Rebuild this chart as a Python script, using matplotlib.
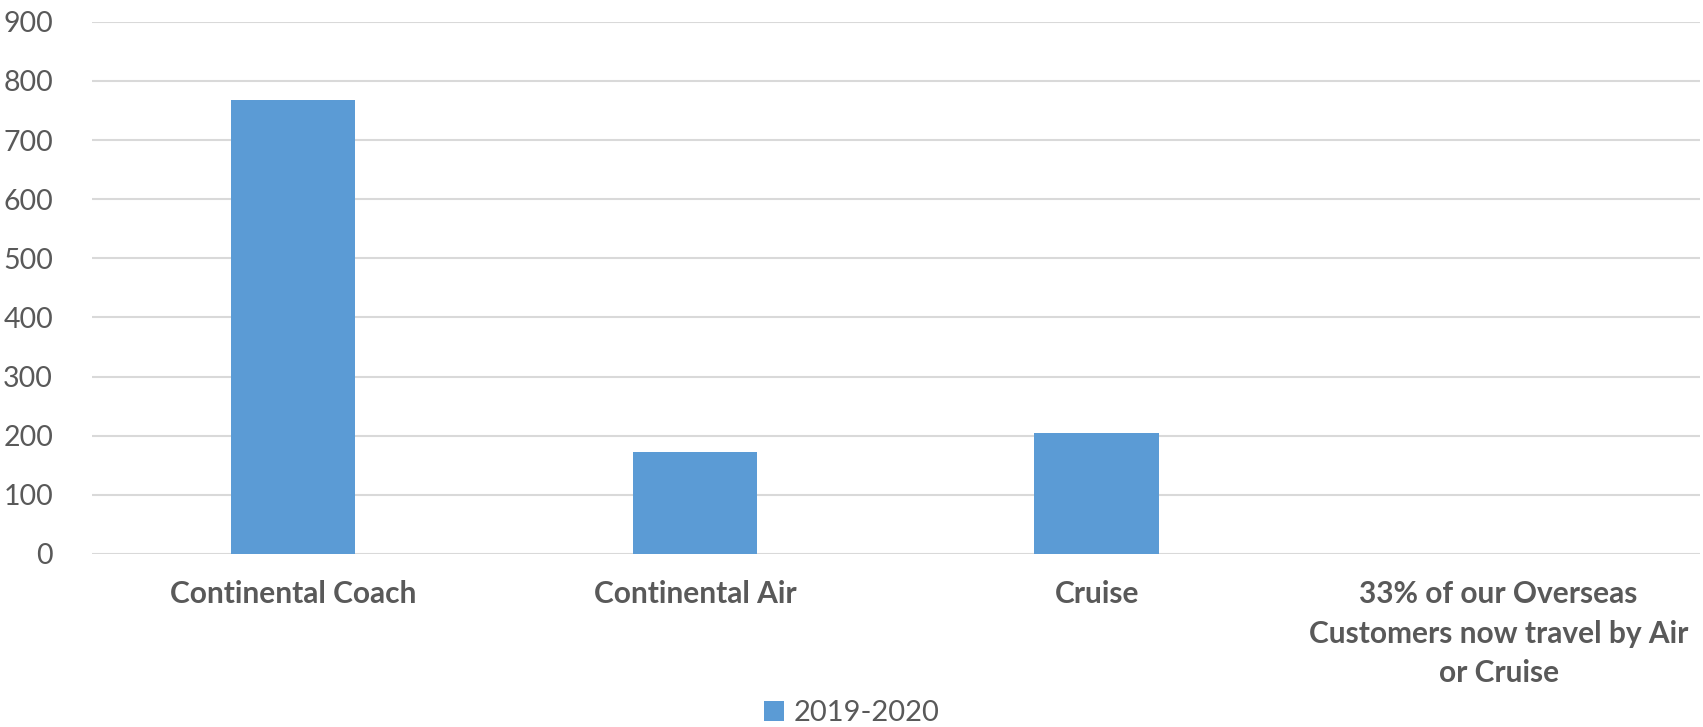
import matplotlib.pyplot as plt
import numpy as np

plt.rcParams['font.family'] = ['Lato', 'DejaVu Sans']

categories = ["Continental Coach", "Continental Air", "Cruise",
              "33% of our Overseas\nCustomers now travel by Air\nor Cruise"]
values = [768, 172, 204, 0]
series_name = "2019-2020"
yticks = [0, 100, 200, 300, 400, 500, 600, 700, 800, 900]

text_color = "#595959"
bar_color = "#5B9BD5"
grid_color = "#D9D9D9"

fig = plt.figure(figsize=(17.03, 7.27), dpi=100)
ax = fig.add_axes([0.054, 0.238, 0.944, 0.732])

x = np.arange(len(categories))
ax.bar(x, values, width=0.31, color=bar_color, label=series_name, zorder=3)

ax.set_xlim(-0.5, len(categories) - 0.5)
ax.set_ylim(0, 900)
ax.set_yticks(yticks)
ax.set_xticks(x)
ax.set_xticklabels(categories, fontsize=21.5, fontweight="bold", color=text_color,
                   linespacing=1.5, va="top")
ax.tick_params(axis="y", labelsize=20.5, labelcolor=text_color, length=0, pad=28)
ax.tick_params(axis="x", length=0, pad=19)
ax.grid(axis="y", color=grid_color, linewidth=1.5, zorder=0)
for s in ax.spines.values():
    s.set_visible(False)

leg = fig.legend(loc="lower center", bbox_to_anchor=(0.5, -0.035), frameon=False,
                 fontsize=21, handlelength=0.7, handleheight=0.7, handletextpad=0.3)
for t in leg.get_texts():
    t.set_color(text_color)

fig.savefig("out.png", dpi=100)
